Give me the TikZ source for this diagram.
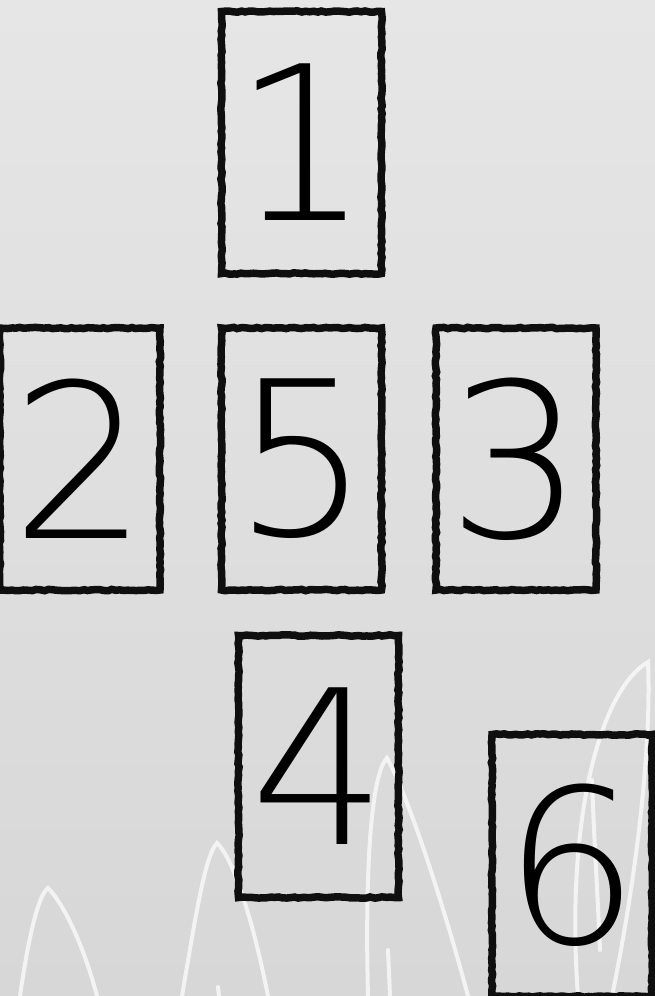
\documentclass[tikz,border=0pt]{standalone}
\usepackage{fontspec}
\usepackage{tikz}
\usetikzlibrary{positioning,decorations.pathmorphing}
\newfontfamily\cardfont{DejaVu Sans}[UprightFont=* ExtraLight]
\definecolor{bgtop}{RGB}{230,230,230}
\definecolor{bgbottom}{RGB}{215,215,215}
\definecolor{cardline}{RGB}{15,15,15}

\begin{document}
\begin{tikzpicture}[
  x=1pt, y=-1pt,
  node distance=43pt and 43pt,
  card/.style={draw=cardline, line width=7.5pt, minimum width=160pt, minimum height=262pt,
    inner sep=0pt, font=\cardfont\fontsize{215}{215}\selectfont,
    decorate, decoration={random steps, segment length=4pt, amplitude=0.7pt}},
  flame/.style={draw=white, line width=4pt, opacity=0.7, line cap=round}
]

% background
\shade[top color=bgtop, bottom color=bgbottom] (0,0) rectangle (655,996);
\useasboundingbox (0,0) rectangle (655,996);

% flames
\draw[flame] (20,996) .. controls (28,940) and (38,895) .. (48,888)
  .. controls (65,905) and (85,950) .. (97,996);
\draw[flame] (182,996) .. controls (195,920) and (205,855) .. (217,843)
  .. controls (235,860) and (255,930) .. (268,996);
\draw[flame] (218,987) -- (219,996);
\draw[flame] (368,996) .. controls (365,880) and (370,775) .. (387,758)
  .. controls (410,800) and (445,910) .. (468,996);
\draw[flame] (388,950) -- (390,996);
\draw[flame] (578,996) .. controls (565,820) and (600,690) .. (648,662)
  .. controls (652,760) and (632,900) .. (612,996);
\draw[flame] (592,780) .. controls (594,840) and (598,900) .. (600,950);

% cards
\node[card] (card5) at (301.5,459) {5};
\node[card, above=47pt of card5] (card1) {1};
\node[card, left=54pt of card5] (card2) {2};
\node[card, right=47pt of card5] (card3) {3};
\node[card, below=38pt of card5, xshift=17pt] (card4) {4};
\node[card, right=86pt of card4, yshift=-99pt] (card6) {6};

\end{tikzpicture}
\end{document}
